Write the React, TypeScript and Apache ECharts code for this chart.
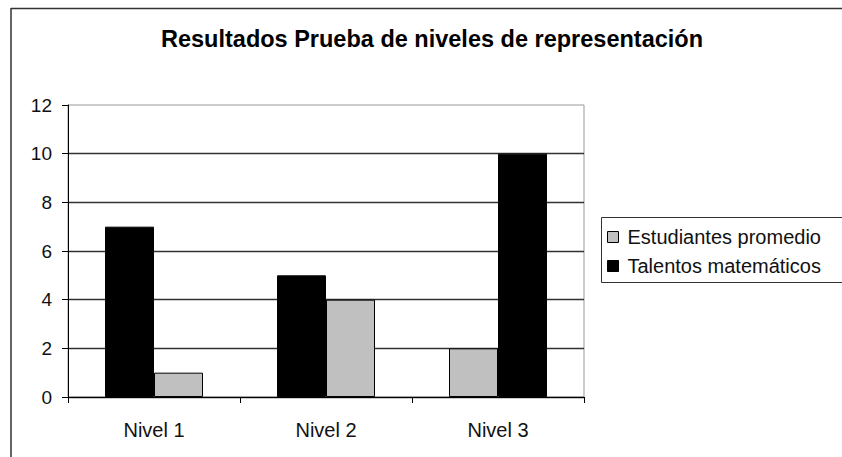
import React, { useEffect, useRef } from "react";
import * as echarts from "echarts";

const titleText = "Resultados Prueba de niveles de representación";
const categories = ["Nivel 1", "Nivel 2", "Nivel 3"];
const estudiantes = [1, 4, 2];
const talentos = [7, 5, 10];
// which series occupies the left slot in each category
const talentosFirst = [true, true, false];
const yTicks = { min: 0, max: 12, interval: 2 };

const GRAY = "#C0C0C0";
const BLACK = "#000000";
const FONT = "'Liberation Sans', Arial, sans-serif";

export default function App() {
  const ref = useRef<HTMLDivElement>(null);

  useEffect(() => {
    if (!ref.current) return;
    const chart = echarts.init(ref.current, null, { renderer: "svg" });

    const barBase = {
      type: "bar",
      barWidth: 49,
      barGap: "0%",
      itemStyle: { borderColor: "#000", borderWidth: 1 },
    };

    const option: any = {
      animation: false,
      backgroundColor: "#ffffff",
      textStyle: { fontFamily: FONT },
      graphic: [
        {
          type: "line",
          shape: { x1: 11, y1: 8.5, x2: 842, y2: 8.5 },
          style: { stroke: "#333", lineWidth: 1.5 },
        },
        {
          type: "line",
          shape: { x1: 11, y1: 8, x2: 11, y2: 457 },
          style: { stroke: "#333", lineWidth: 1.5 },
        },
        {
          type: "text",
          x: 432,
          y: 39,
          style: {
            text: titleText,
            align: "center",
            verticalAlign: "middle",
            font: `bold 23.5px ${FONT}`,
            fill: "#000",
          },
        },
        {
          type: "rect",
          shape: { x: 601.5, y: 217.5, width: 260, height: 65 },
          style: { fill: "none", stroke: "#333", lineWidth: 1 },
        },
      ],
      legend: {
        orient: "vertical",
        left: 607,
        top: 227,
        padding: 0,
        itemGap: 9,
        itemWidth: 11,
        itemHeight: 11,
        icon: "rect",
        textStyle: {
          fontFamily: FONT,
          fontSize: 20,
          color: "#111",
          lineHeight: 20,
          padding: [0, 0, 0, 4],
        },
        data: [
          {
            name: "Estudiantes promedio",
            itemStyle: { color: GRAY, borderColor: "#000", borderWidth: 1 },
          },
          {
            name: "Talentos matemáticos",
            itemStyle: { color: BLACK, borderColor: "#000", borderWidth: 1 },
          },
        ],
      },
      grid: {
        left: 68,
        top: 105,
        right: 258,
        bottom: 60,
        show: true,
        borderColor: "#999",
        borderWidth: 1,
        backgroundColor: "transparent",
      },
      xAxis: {
        type: "category",
        data: categories,
        axisLine: { lineStyle: { color: "#000", width: 1 } },
        axisTick: { show: true, length: 6, lineStyle: { color: "#000" } },
        axisLabel: {
          fontFamily: FONT,
          fontSize: 20,
          color: "#111",
          margin: 23,
        },
      },
      yAxis: {
        type: "value",
        min: yTicks.min,
        max: yTicks.max,
        interval: yTicks.interval,
        axisLine: { show: true, lineStyle: { color: "#000", width: 1 } },
        axisTick: { show: true, length: 6, lineStyle: { color: "#000" } },
        axisLabel: {
          fontFamily: FONT,
          fontSize: 19,
          color: "#111",
          margin: 16,
        },
        splitLine: {
          show: true,
          showMaxLine: false,
          lineStyle: { color: "#333", width: 1.3 },
        },
      },
      series: [
        {
          ...barBase,
          name: "Talentos matemáticos",
          stack: "left",
          color: BLACK,
          itemStyle: { ...barBase.itemStyle, color: BLACK },
          data: talentos.map((v, i) => (talentosFirst[i] ? v : "-")),
        },
        {
          ...barBase,
          name: "Estudiantes promedio",
          stack: "left",
          color: GRAY,
          itemStyle: { ...barBase.itemStyle, color: GRAY },
          data: estudiantes.map((v, i) => (talentosFirst[i] ? "-" : v)),
        },
        {
          ...barBase,
          name: "Estudiantes promedio",
          stack: "right",
          color: GRAY,
          itemStyle: { ...barBase.itemStyle, color: GRAY },
          data: estudiantes.map((v, i) => (talentosFirst[i] ? v : "-")),
        },
        {
          ...barBase,
          name: "Talentos matemáticos",
          stack: "right",
          color: BLACK,
          itemStyle: { ...barBase.itemStyle, color: BLACK },
          data: talentos.map((v, i) => (talentosFirst[i] ? "-" : v)),
        },
      ],
    };

    chart.setOption(option);
    return () => chart.dispose();
  }, []);

  return (
    <div
      ref={ref}
      style={{ position: "fixed", left: 0, top: 0, width: 842, height: 457 }}
    />
  );
}
